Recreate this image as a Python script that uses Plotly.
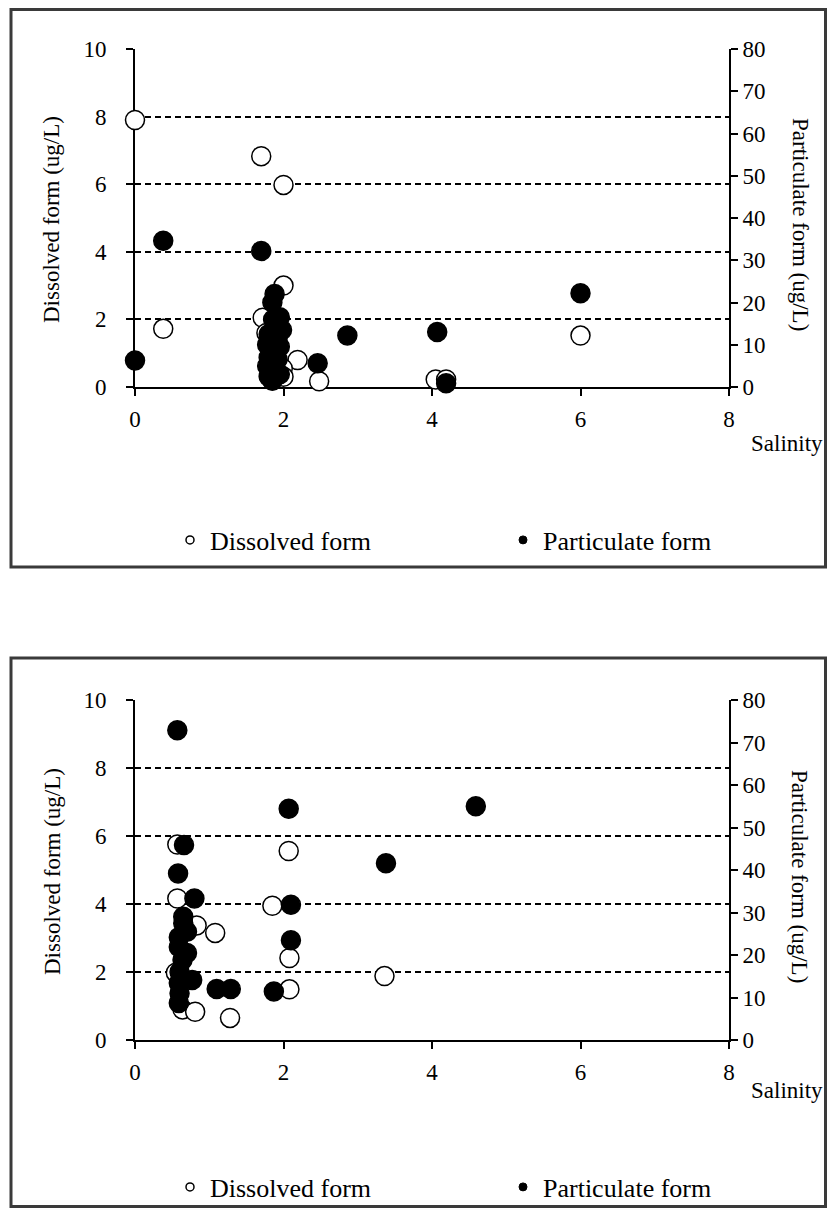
import plotly.graph_objects as go

OFF = 8                      # the page body margin shifts the figure by 8 px
W, H = 835 - 2 * OFF, 1216 - 2 * OFF   # keep the page free of scrollbars
FONT = "Liberation Serif"

# ---------------- data ----------------
# Top chart
top_dis_x = [0.0, 0.38, 1.70, 2.00, 2.00, 1.72, 1.77, 2.19, 1.99, 2.00, 2.48, 4.05, 4.19, 6.00]
top_dis_y = [7.9, 1.72, 6.83, 5.98, 3.0, 2.05, 1.6, 0.8, 0.55, 0.3, 0.17, 0.22, 0.22, 1.52]

top_par_x = [0.0, 0.38, 1.70, 2.86, 2.46, 4.07, 4.19, 6.00,
             1.88, 1.85, 1.95, 1.86, 1.98, 1.80, 1.92, 1.78, 1.95,
             1.85, 1.80, 1.92, 1.78, 1.88, 1.80, 1.85, 1.95]
top_par_y = [6.3, 34.6, 32.2, 12.2, 5.6, 13.0, 0.9, 22.2,
             22.0, 20.0, 16.5, 16.0, 13.5, 12.5, 11.5, 10.0, 9.5,
             8.5, 7.0, 6.5, 5.0, 4.0, 2.5, 1.5, 3.0]

# Bottom chart
bot_dis_x = [0.57, 2.07, 0.57, 1.85, 0.83, 1.08, 2.08, 3.36, 2.08, 0.55, 0.64, 0.81, 1.28]
bot_dis_y = [5.75, 5.56, 4.16, 3.95, 3.37, 3.15, 2.41, 1.88, 1.49, 1.98, 0.9, 0.83, 0.65]

bot_par_x = [0.57, 2.07, 4.59, 0.66, 0.58, 3.38, 0.80, 2.10, 2.10, 1.87, 1.10, 1.29,
             0.65, 0.65, 0.59, 0.59, 0.64, 0.77, 0.59, 0.59, 0.60, 0.70, 0.70, 0.60]
bot_par_y = [72.9, 54.4, 55.0, 45.9, 39.2, 41.6, 33.3, 31.8, 23.5, 11.4, 12.0, 12.0,
             29.0, 27.5, 24.2, 21.9, 18.8, 14.1, 13.4, 8.7, 16.0, 20.5, 25.5, 11.0]

x_ticks = [0, 2, 4, 6, 8]
left_ticks = [0, 2, 4, 6, 8, 10]
right_ticks = [0, 10, 20, 30, 40, 50, 60, 70, 80]

series_names = ["Dissolved form", "Particulate form"]
left_title = "Dissolved form (ug/L)"
right_title = "Particulate form (ug/L)"
x_title = "Salinity"

# ---------------- layout geometry (page pixels) ----------------
def px_x(p):
    return (p - OFF) / W

def px_y(p):
    return 1 - (p - OFF) / H

X0, X1 = 135, 729
panels = [
    dict(top=49, bot=387, box=(11, 9.5, 825.5, 567), legend_y=540, sal_y=443),
    dict(top=700, bot=1040, box=(11, 658, 825.5, 1206.5), legend_y=1187, sal_y=1090),
]
LEG_X = [170, 503]   # left edge of each legend item (page pixels)

fig = go.Figure()

open_marker = dict(size=19, color="white", line=dict(color="black", width=1.5))
fill_marker = dict(size=19, color="black", line=dict(color="black", width=1.5))

datasets = [(top_dis_x, top_dis_y, top_par_x, top_par_y),
            (bot_dis_x, bot_dis_y, bot_par_x, bot_par_y)]

legend_layouts = {}
for i, (dx, dy, pxs, pys) in enumerate(datasets):
    xa = "x" if i == 0 else "x2"
    yl = "y" if i == 0 else "y3"
    yr = "y2" if i == 0 else "y4"
    fig.add_trace(go.Scatter(x=dx, y=dy, mode="markers", marker=open_marker,
                             xaxis=xa, yaxis=yl, showlegend=False, cliponaxis=False,
                             name=series_names[0]))
    fig.add_trace(go.Scatter(x=pxs, y=pys, mode="markers", marker=fill_marker,
                             xaxis=xa, yaxis=yr, showlegend=False, cliponaxis=False,
                             name=series_names[1]))
    # legend entries (small symbols as in the original), one legend box each
    leg_a = "legend" if i == 0 else "legend3"
    leg_b = "legend2" if i == 0 else "legend4"
    fig.add_trace(go.Scatter(x=[None], y=[None], mode="markers",
                             marker=dict(size=8, color="white", line=dict(color="black", width=1.5)),
                             xaxis=xa, yaxis=yl, name=series_names[0], legend=leg_a))
    fig.add_trace(go.Scatter(x=[None], y=[None], mode="markers",
                             marker=dict(size=8, color="black", line=dict(color="black", width=1)),
                             xaxis=xa, yaxis=yl, name=series_names[1], legend=leg_b))
    for leg, lx in zip([leg_a, leg_b], LEG_X):
        legend_layouts[leg] = dict(orientation="h", x=px_x(lx), y=px_y(panels[i]["legend_y"]),
                                   xanchor="left", yanchor="middle",
                                   font=dict(family=FONT, size=26, color="black"),
                                   bgcolor="rgba(0,0,0,0)", itemclick=False,
                                   itemdoubleclick=False)

tickfont = dict(family=FONT, size=23, color="black")

common_x = dict(range=[0, 8], tickvals=x_ticks, ticks="outside", ticklen=7, tickwidth=1.5,
                tickcolor="black", showline=True, linecolor="black", linewidth=1.8,
                showgrid=False, zeroline=False, tickfont=tickfont, layer="below traces",
                ticklabelstandoff=3, fixedrange=True, automargin=False)
common_left = dict(range=[0, 10], tickvals=left_ticks, ticks="outside", ticklen=7, tickwidth=1.5,
                   tickcolor="black", showline=True, linecolor="black", linewidth=1.8,
                   showgrid=True, gridcolor="black", gridwidth=1.5, griddash="6px,4px",
                   zeroline=False, tickfont=tickfont, layer="below traces",
                   ticklabelstandoff=15, fixedrange=True, automargin=False)
common_right = dict(range=[0, 80], tickvals=right_ticks, ticks="outside", ticklen=7, tickwidth=1.5,
                    tickcolor="black", showline=True, linecolor="black", linewidth=1.8,
                    showgrid=False, zeroline=False, tickfont=tickfont, layer="below traces",
                    side="right", ticklabelstandoff=0, fixedrange=True, automargin=False)

xdom = [px_x(X0), px_x(X1)]
p0, p1 = panels
fig.update_layout(
    width=W, height=H,
    margin=dict(l=0, r=0, t=0, b=0, pad=0, autoexpand=False),
    paper_bgcolor="white", plot_bgcolor="white",
    font=dict(family=FONT, color="black"),
    xaxis=dict(domain=xdom, anchor="y", **common_x),
    yaxis=dict(domain=[px_y(p0["bot"]), px_y(p0["top"])], anchor="x", **common_left),
    yaxis2=dict(overlaying="y", anchor="x", **common_right),
    xaxis2=dict(domain=xdom, anchor="y3", **common_x),
    yaxis3=dict(domain=[px_y(p1["bot"]), px_y(p1["top"])], anchor="x2", **common_left),
    yaxis4=dict(overlaying="y3", anchor="x2", **common_right),
    **legend_layouts,
)

shapes = []
annotations = []
for p in panels:
    bx0, by0, bx1, by1 = p["box"]
    shapes.append(dict(type="rect", xref="paper", yref="paper",
                       x0=px_x(bx0), x1=px_x(bx1), y0=px_y(by1), y1=px_y(by0),
                       line=dict(color="#3a3a3a", width=3), fillcolor="rgba(0,0,0,0)",
                       layer="below"))
    cy = (p["top"] + p["bot"]) / 2 + 2
    annotations.append(dict(text=left_title, xref="paper", yref="paper",
                            x=px_x(52), y=px_y(cy), textangle=-90, showarrow=False,
                            xanchor="center", yanchor="middle",
                            font=dict(family=FONT, size=23, color="black")))
    annotations.append(dict(text=right_title, xref="paper", yref="paper",
                            x=px_x(800), y=px_y(cy + 4), textangle=90, showarrow=False,
                            xanchor="center", yanchor="middle",
                            font=dict(family=FONT, size=23, color="black")))
    annotations.append(dict(text=x_title, xref="paper", yref="paper",
                            x=px_x(749), y=px_y(p["sal_y"]), showarrow=False,
                            xanchor="left", yanchor="middle",
                            font=dict(family=FONT, size=23, color="black")))

fig.update_layout(shapes=shapes, annotations=annotations)

fig.write_html("out.html", config=dict(displayModeBar=False))
